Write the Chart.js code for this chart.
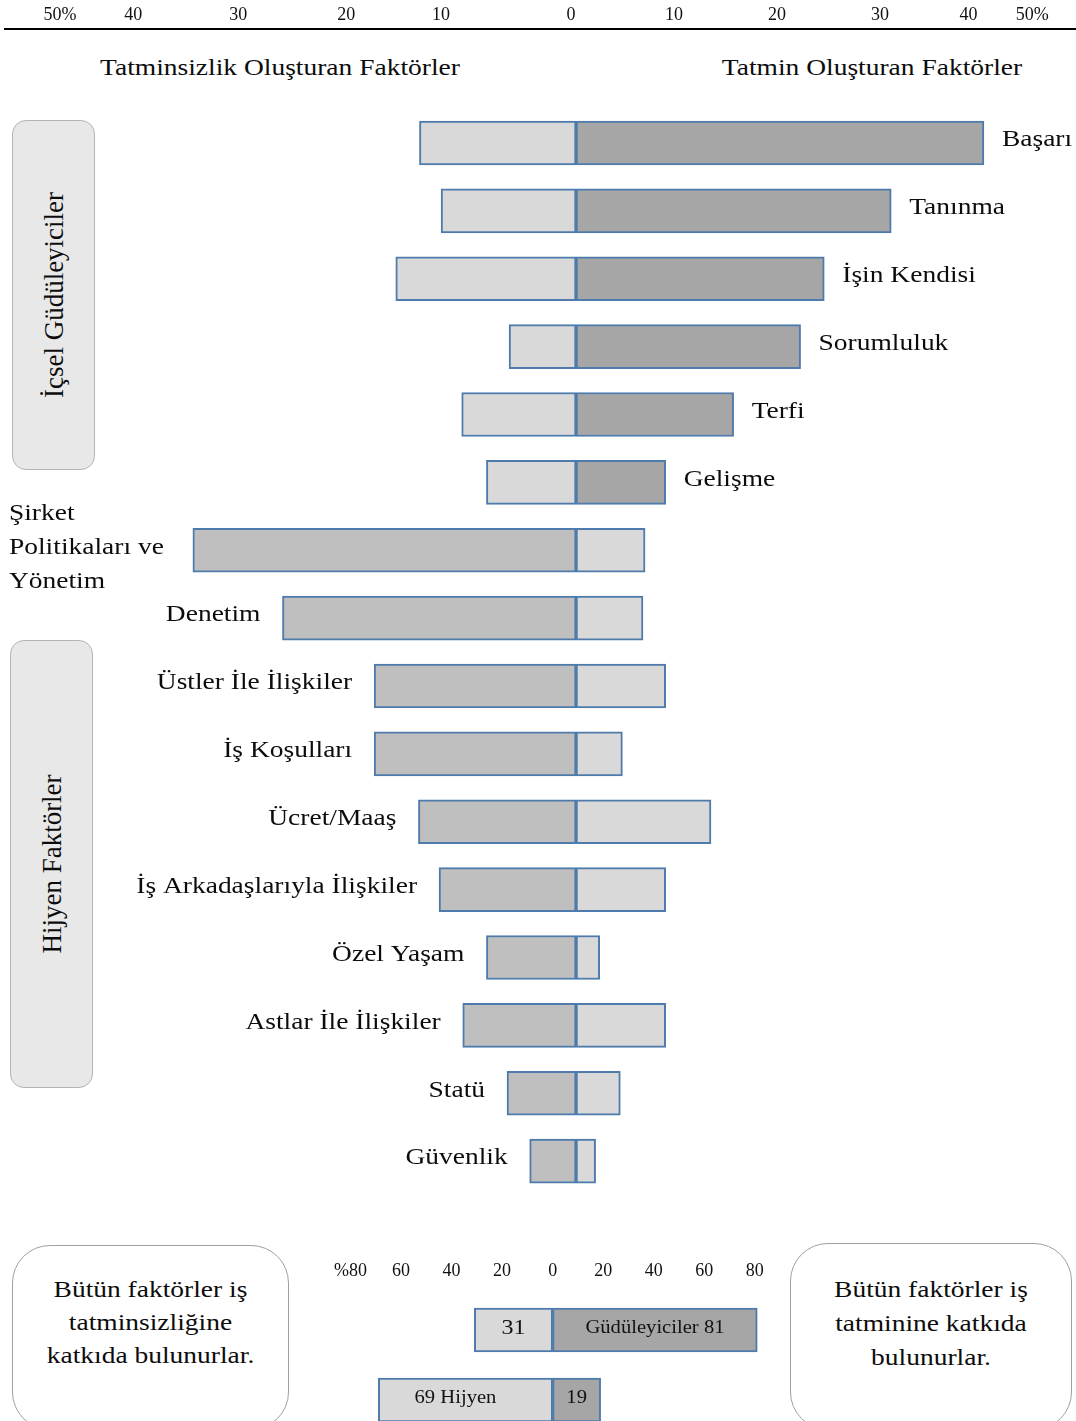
<!DOCTYPE html>
<html lang="tr">
<head>
<meta charset="utf-8">
<script src="https://cdn.jsdelivr.net/npm/chart.js@4.4.1/dist/chart.umd.min.js"></script>
<style>
  body { margin: 0; background: #fff; }
  #page { position: relative; width: 1076px; height: 1421px; overflow: hidden; font-family: "Liberation Serif", "Times New Roman", serif; color: #0c0c0c; }
  .abs { position: absolute; }
  .stretch { transform: scaleX(1.145); transform-origin: center; white-space: nowrap; }
  .head { font-size: 24px; top: 54px; width: 400px; text-align: center; }
  .sidebox { background: #e8e8e8; border: 1.5px solid #b4b4b4; border-radius: 14px; box-sizing: border-box; }
  .sidebox span { position: absolute; left: 50%; top: 50%; font-size: 27px; white-space: nowrap; transform: translate(-50%, -50%) rotate(-90deg); }
  .note { background: #fff; border: 1.5px solid #a0a0a0; border-radius: 38px; box-sizing: border-box; text-align: center; font-size: 24px; }
</style>
</head>
<body>
<div id="page">
  <div class="abs sidebox" style="left:12px; top:120px; width:83px; height:350px;"><span>İçsel Güdüleyiciler</span></div>
  <div class="abs sidebox" style="left:10px; top:640px; width:83px; height:448px;"><span>Hijyen Faktörler</span></div>

  <div class="abs head stretch" style="left:80px;">Tatminsizlik Oluşturan Faktörler</div>
  <div class="abs head stretch" style="left:672px;">Tatmin Oluşturan Faktörler</div>

  <canvas id="mainChart" class="abs" style="left:0; top:0;" width="1076" height="1210"></canvas>

  <div class="abs note" style="left:12px; top:1245px; width:277px; height:185px; padding-top:27px; line-height:33px;">
    <div class="stretch">Bütün faktörler iş</div>
    <div class="stretch">tatminsizliğine</div>
    <div class="stretch">katkıda bulunurlar.</div>
  </div>
  <div class="abs note" style="left:790px; top:1243px; width:282px; height:187px; padding-top:28px; line-height:34px;">
    <div class="stretch">Bütün faktörler iş</div>
    <div class="stretch">tatminine katkıda</div>
    <div class="stretch">bulunurlar.</div>
  </div>

  <canvas id="summaryChart" class="abs" style="left:300px; top:1245px;" width="480" height="176"></canvas>
</div>

<script>
// faktörler: ilk 6 tanesi güdüleyici, kalanlar hijyen
const factors = ['Başarı', 'Tanınma', 'İşin Kendisi', 'Sorumluluk', 'Terfi', 'Gelişme',
    'Şirket\nPolitikaları ve\nYönetim', 'Denetim', 'Üstler İle İlişkiler', 'İş Koşulları', 'Ücret/Maaş',
    'İş Arkadaşlarıyla İlişkiler', 'Özel Yaşam', 'Astlar İle İlişkiler', 'Statü', 'Güvenlik'];
const motivatorCount = 6;
const dissatisfaction = [15.2, 13.1, 17.5, 6.5, 11.1, 8.7, 37.2, 28.5, 19.6, 19.6, 15.3, 13.3, 8.7, 11.0, 6.7, 4.5];
const satisfaction = [39.6, 30.6, 24.1, 21.8, 15.3, 8.7, 6.7, 6.5, 8.7, 4.5, 13.1, 8.7, 2.3, 8.7, 4.3, 1.9];

// üst eksen etiketleri ve yerleri
const topTickLabels = ['50%', '40', '30', '20', '10', '0', '10', '20', '30', '40', '50%'];
const topTickAt = [-50.1, -43.0, -32.8, -22.3, -13.1, -0.5, 9.5, 19.5, 29.5, 38.1, 44.3];

// alttaki özet grafik
const summaryGroups = ['Güdüleyiciler', 'Hijyen'];
const summaryDissatisfaction = [31, 69];
const summarySatisfaction = [81, 19];
const summaryTicks = [-80, -60, -40, -20, 0, 20, 40, 60, 80];
const summaryTickLabels = ['%80', '60', '40', '20', '0', '20', '40', '60', '80'];

const SX = 1.145;
const serif = '"Liberation Serif", "Times New Roman", serif';
const barBorder = '#4e7bab';

function stretchedText(ctx, text, x, y) {
    ctx.save();
    ctx.translate(x, y);
    ctx.scale(SX, 1);
    ctx.fillText(text, 0, 0);
    ctx.restore();
}

const factorLabels = {
    id: 'factorLabels',
    afterDatasetsDraw(chart) {
        const ctx = chart.ctx;
        const leftBars = chart.getDatasetMeta(0).data;
        const rightBars = chart.getDatasetMeta(1).data;
        ctx.save();
        ctx.font = '24px ' + serif;
        ctx.fillStyle = '#0c0c0c';
        ctx.textBaseline = 'middle';
        ctx.textAlign = 'left';
        factors.forEach(function (name, i) {
            const lines = name.split('\n');
            const y = leftBars[i].y - 3;
            var x;
            if (i < motivatorCount) {
                x = rightBars[i].x + 18;
            } else {
                // çok satırlı etiket biraz daha solda duruyor
                const gap = lines.length > 1 ? 29 : 22;
                const w = Math.max.apply(null, lines.map(l => ctx.measureText(l).width)) * SX;
                x = leftBars[i].x - gap - w;
            }
            lines.forEach(function (line, k) {
                stretchedText(ctx, line, x, y + (k - (lines.length - 1) / 2) * 34);
            });
        });
        ctx.restore();
    }
};

new Chart(document.getElementById('mainChart'), {
    type: 'bar',
    data: {
        datasets: [
            {
                label: 'Tatminsizlik',
                data: factors.map((f, i) => ({ x: -dissatisfaction[i], y: i })),
                backgroundColor: factors.map((f, i) => i < motivatorCount ? '#d9d9d9' : '#bfbfbf'),
                borderColor: barBorder,
                borderWidth: 2,
                borderSkipped: false,
                barThickness: 44,
                grouped: false
            },
            {
                label: 'Tatmin',
                data: factors.map((f, i) => ({ x: satisfaction[i], y: i })),
                backgroundColor: factors.map((f, i) => i < motivatorCount ? '#a6a6a6' : '#d9d9d9'),
                borderColor: barBorder,
                borderWidth: 2,
                borderSkipped: false,
                barThickness: 44,
                grouped: false
            }
        ]
    },
    options: {
        indexAxis: 'y',
        responsive: false,
        animation: false,
        layout: { padding: { left: 5, right: 0, top: 0, bottom: 0 } },
        plugins: { legend: { display: false }, tooltip: { enabled: false } },
        scales: {
            x: {
                type: 'linear',
                position: 'top',
                min: -55.44,
                max: 48.54,
                grid: { display: false, drawTicks: false },
                border: { display: true, color: '#000', width: 2 },
                afterBuildTicks: function (scale) {
                    scale.ticks = topTickAt.map(v => ({ value: v }));
                },
                afterFit: function (scale) { scale.height = 29; },
                ticks: {
                    callback: (v, i) => topTickLabels[i],
                    autoSkip: false,
                    maxRotation: 0,
                    padding: 3,
                    color: '#111',
                    font: { family: serif, size: 18 }
                }
            },
            y: {
                type: 'linear',
                reverse: true,
                offset: false,
                min: -1.68,
                max: 15.72,
                display: false
            }
        }
    },
    plugins: [factorLabels]
});

// özet çubuklarının içindeki yazılar: grup adı büyük olan tarafta
const summaryLabels = {
    id: 'summaryLabels',
    afterDatasetsDraw(chart) {
        const ctx = chart.ctx;
        const leftBars = chart.getDatasetMeta(0).data;
        const rightBars = chart.getDatasetMeta(1).data;
        ctx.save();
        ctx.fillStyle = '#111';
        ctx.textBaseline = 'middle';
        ctx.textAlign = 'center';
        summaryGroups.forEach(function (name, i) {
            const onLeft = summaryDissatisfaction[i] > summarySatisfaction[i];
            const leftText = onLeft ? summaryDissatisfaction[i] + ' ' + name : String(summaryDissatisfaction[i]);
            const rightText = onLeft ? String(summarySatisfaction[i]) : name + ' ' + summarySatisfaction[i];
            const lb = leftBars[i], rb = rightBars[i];
            ctx.font = (onLeft ? '18px ' : '21px ') + serif;
            stretchedText(ctx, leftText, (lb.x + lb.base) / 2 - (onLeft ? 10 : 0), lb.y - 2);
            ctx.font = '18px ' + serif;
            stretchedText(ctx, rightText, (rb.x + rb.base) / 2, rb.y - 2);
        });
        ctx.restore();
    }
};

new Chart(document.getElementById('summaryChart'), {
    type: 'bar',
    data: {
        datasets: [
            {
                label: 'Tatminsizlik',
                data: summaryGroups.map((g, i) => ({ x: -summaryDissatisfaction[i], y: i })),
                backgroundColor: '#d9d9d9',
                borderColor: barBorder,
                borderWidth: 2,
                borderSkipped: false,
                barThickness: 44,
                grouped: false
            },
            {
                label: 'Tatmin',
                data: summaryGroups.map((g, i) => ({ x: summarySatisfaction[i], y: i })),
                backgroundColor: '#a6a6a6',
                borderColor: barBorder,
                borderWidth: 2,
                borderSkipped: false,
                barThickness: 44,
                grouped: false
            }
        ]
    },
    options: {
        indexAxis: 'y',
        responsive: false,
        animation: false,
        layout: { padding: 0 },
        plugins: { legend: { display: false }, tooltip: { enabled: false } },
        scales: {
            x: {
                type: 'linear',
                position: 'top',
                min: -100,
                max: 90,
                grid: { display: false, drawTicks: false },
                border: { display: false },
                afterBuildTicks: function (scale) {
                    scale.ticks = summaryTicks.map(v => ({ value: v }));
                },
                afterFit: function (scale) { scale.height = 40; },
                ticks: {
                    callback: (v, i) => summaryTickLabels[i],
                    autoSkip: false,
                    maxRotation: 0,
                    padding: 3,
                    color: '#111',
                    font: { family: serif, size: 18 }
                }
            },
            y: {
                type: 'linear',
                reverse: true,
                offset: false,
                min: -0.643,
                max: 1.3,
                display: false
            }
        }
    },
    plugins: [summaryLabels]
});
</script>
</body>
</html>
